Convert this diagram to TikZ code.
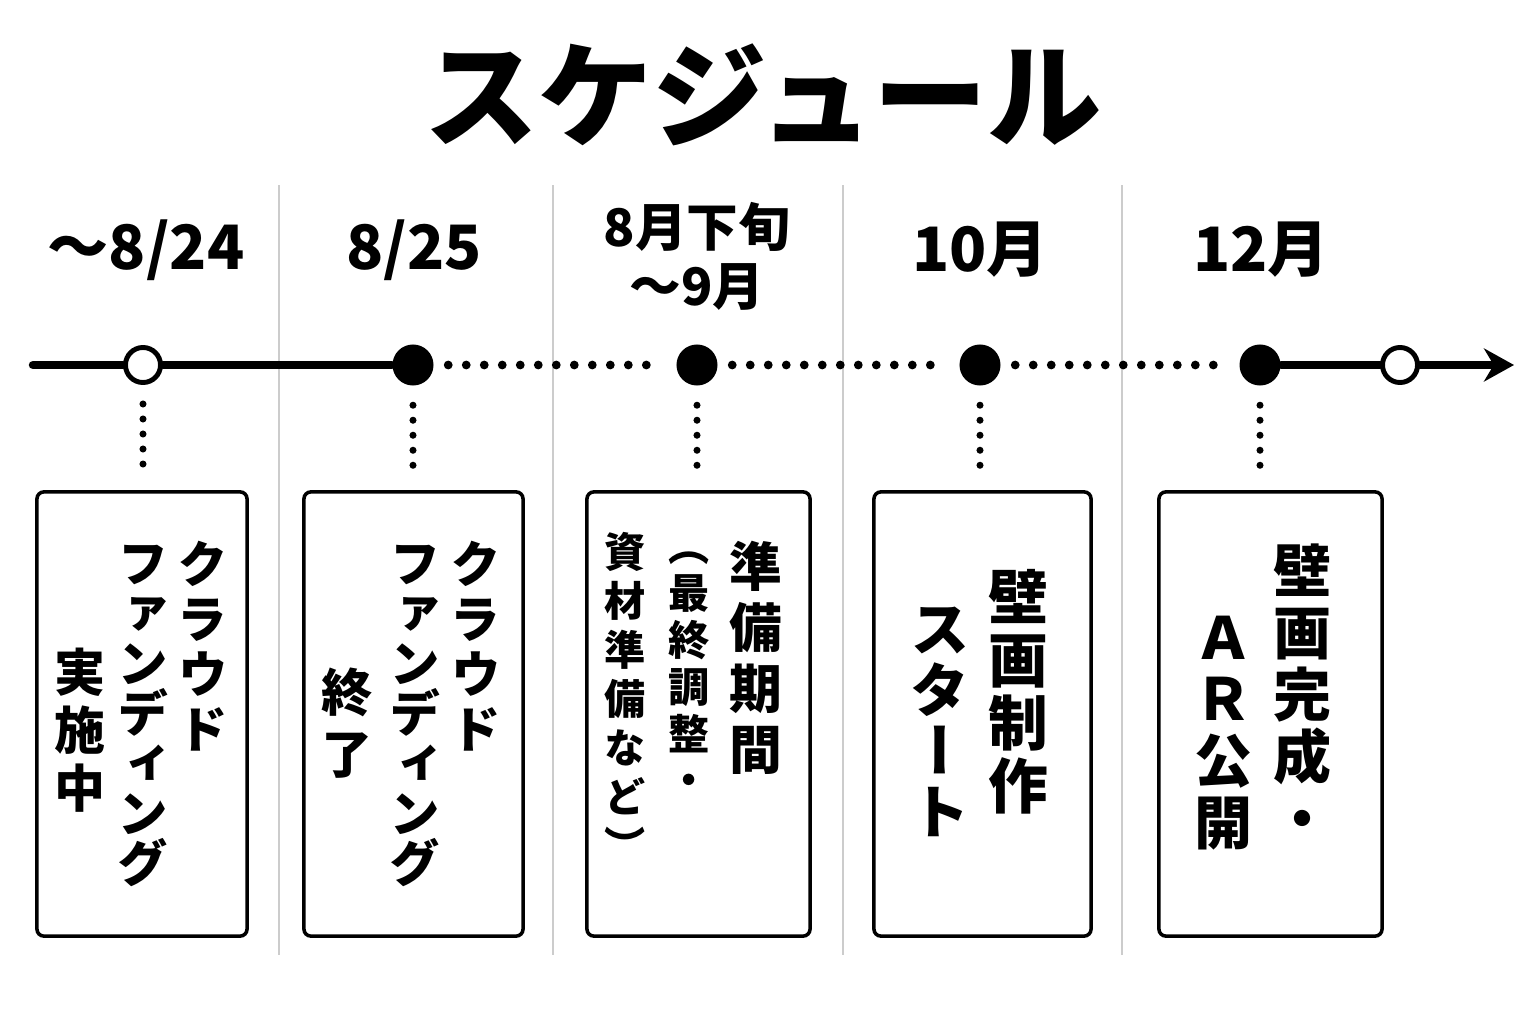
\documentclass[tikz,border=0pt]{standalone}
\usepackage{fontspec}
\setmainfont{Noto Sans CJK JP}
\newfontfamily\vjp{Noto Sans CJK JP}[RawFeature={+vert}]
\usetikzlibrary{arrows.meta}
\tikzset{
 fulldot/.style={circle, fill=black, inner sep=0pt, minimum size=0.41cm},
 opendot/.style={circle, draw=black, line width=1.4pt, fill=white, inner sep=0pt, minimum size=0.35cm},
 card/.style={draw=black, line width=1pt, rounded corners=2pt, fill=white, minimum height=4.44cm, inner sep=0pt},
 vcol/.style 2 args={inner sep=0pt, align=center, font=\vjp\bfseries\fontsize{#1}{#2}\selectfont},
 datelbl/.style={inner sep=0pt, align=center, font=\bfseries\fontsize{17.4}{20}\selectfont},
 axis/.style={line width=2.4pt, line cap=round},
 dotline/.style={line width=2.5pt, line cap=round, dash pattern=on 0pt off 0.18cm, shorten <=0.14cm, shorten >=0.14cm},
 droplink/.style={line width=2pt, line cap=round, dash pattern=on 0pt off 0.15cm, shorten <=0.19cm, shorten >=0.22cm},
}
\begin{document}
\begin{tikzpicture}[x=0.01cm, y=-0.01cm]
\useasboundingbox (0,0) rectangle (1536,1024);
\fill[white] (0,0) rectangle (1536,1024);
\node[inner sep=0pt, font=\bfseries\fontsize{32.5}{36}\selectfont] (title) at (763,95) {スケジュール};
\foreach \x in {279,553,843,1122}
 \draw[gray!40, line width=0.6pt] (\x,185) -- (\x,955);

\node[opendot] (o1) at (143,365) {};
\node[fulldot] (f1) at (413,365) {};
\node[fulldot] (f2) at (697,365) {};
\node[fulldot] (f3) at (980,365) {};
\node[fulldot] (f4) at (1260,365) {};
\node[opendot] (o2) at (1400,365) {};
\coordinate (start) at (33,365);
\coordinate (tip) at (1514,365);
\draw[axis] (start) -- (o1);
\draw[axis] (o1) -- (f1);
\draw[dotline] (f1) -- (f2);
\draw[dotline] (f2) -- (f3);
\draw[dotline] (f3) -- (f4);
\draw[axis] (f4) -- (o2);
\draw[axis, -{Stealth[length=0.3cm, width=0.33cm]}] (o2) -- (tip);

\node[datelbl] (t1) at (146,250) {～8/24};
\node[datelbl] (t2) at (414,250) {8/25};
\node[datelbl, font=\bfseries\fontsize{14.7}{16.8}\selectfont] (t3) at (697,256) {8月下旬\\～9月};
\node[datelbl] (t4) at (980,250) {10月};
\node[datelbl] (t5) at (1261,250) {12月};

\node[card, minimum width=2.10cm] (b1) at (142,714) {};
\node[card, minimum width=2.19cm] (b2) at (413.5,714) {};
\node[card, minimum width=2.23cm] (b3) at (698.5,714) {};
\node[card, minimum width=2.17cm] (b4) at (982.5,714) {};
\node[card, minimum width=2.23cm] (b5) at (1270.5,714) {};

\foreach \p/\b in {o1/b1,f1/b2,f2/b3,f3/b4,f4/b5}
 \draw[droplink] (\p) -- (\p |- \b.north);

\node[vcol={14.5pt}{15.6pt}] (c11) at (203,646) {ク\\ラ\\ウ\\ド};
\node[vcol={14.5pt}{14.2pt}] (c12) at (143,716) {フ\\ァ\\ン\\デ\\ィ\\ン\\グ};
\node[vcol={14.5pt}{16.5pt}] (c13) at (80,730) {実\\施\\中};

\node[vcol={14.5pt}{15.6pt}] (c21) at (476,646) {ク\\ラ\\ウ\\ド};
\node[vcol={14.5pt}{14.2pt}] (c22) at (415,716) {フ\\ァ\\ン\\デ\\ィ\\ン\\グ};
\node[vcol={14.5pt}{17.6pt}] (c23) at (347,723) {終\\了};

\node[vcol={15pt}{17.3pt}] (c31) at (756,658) {準\\備\\期\\間};
\node[vcol={11.7pt}{13.3pt}] (c32) at (689,674) {（\\最\\終\\調\\整\\・};
\node[vcol={11.7pt}{13.9pt}] (c33) at (625,697) {資\\材\\準\\備\\な\\ど\\）};

\node[vcol={17pt}{17.9pt}] (c41) at (1018,692) {壁\\画\\制\\作};
\node[vcol={17pt}{17.4pt}] (c42) at (940,722) {ス\\タ\\ー\\ト};

\node[vcol={16.5pt}{17.6pt}] (c51) at (1302,692) {壁\\画\\完\\成\\・};
\node[vcol={16.5pt}{17.6pt}] (c52) at (1223,733) {Ａ\\Ｒ\\公\\開};
\end{tikzpicture}
\end{document}
